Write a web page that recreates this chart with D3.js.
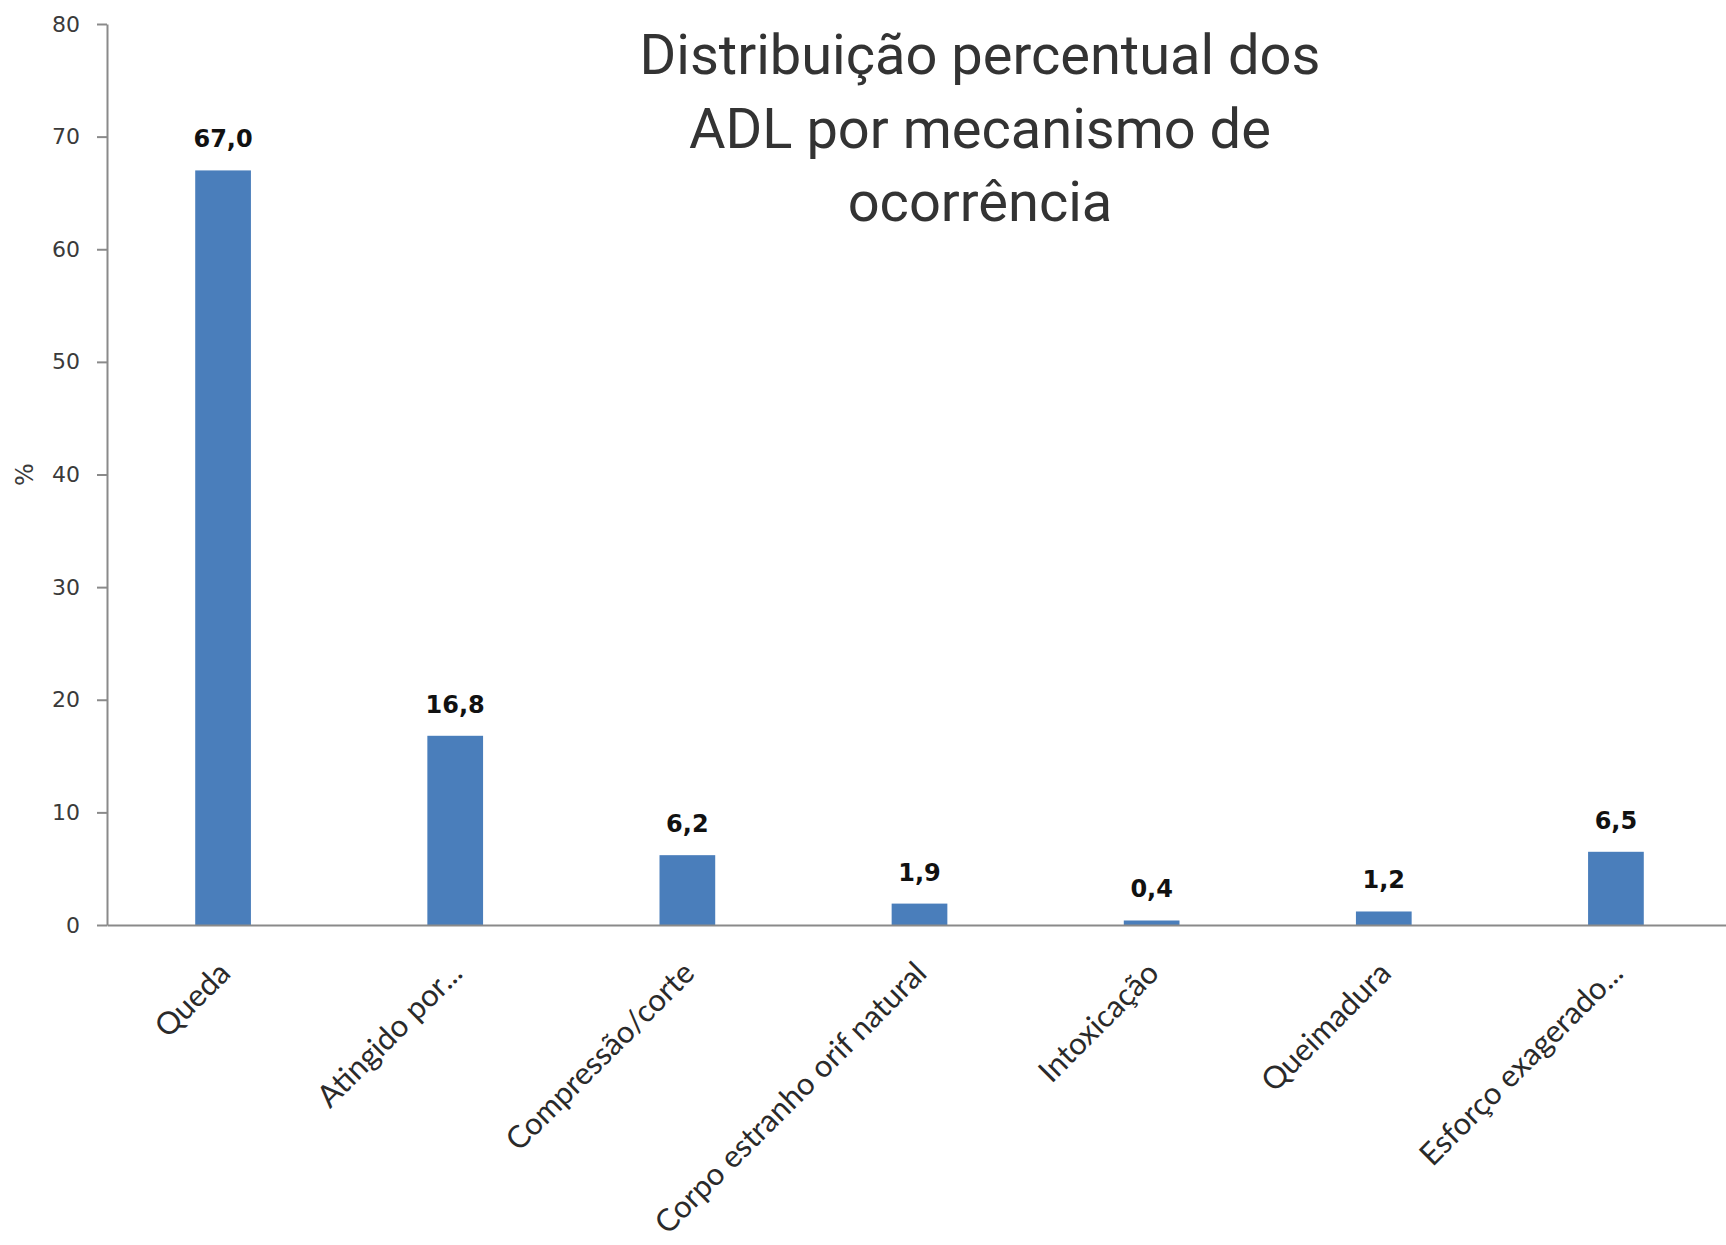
<!DOCTYPE html>
<html>
<head>
<meta charset="utf-8">
<script src="https://cdn.jsdelivr.net/npm/d3@7"></script>
<style>
  html, body { margin: 0; padding: 0; background: #ffffff; }
  svg { display: block; }
</style>
</head>
<body>
<svg id="chart" width="1726" height="1245"></svg>
<script>
// Mechanisms of occurrence and their share of ADL cases (%)
const categories = [
  "Queda",
  "Atingido por...",
  "Compressão/corte",
  "Corpo estranho orif natural",
  "Intoxicação",
  "Queimadura",
  "Esforço exagerado..."
];
const percentages = [67.0, 16.8, 6.2, 1.9, 0.4, 1.2, 6.5];
const yTicks = [0, 10, 20, 30, 40, 50, 60, 70, 80];
const titleLines = ["Distribuição percentual dos", "ADL por mecanismo de", "ocorrência"];
const yAxisTitle = "%";

const svg = d3.select("#chart");

const x = d3.scaleBand()
  .domain(categories)
  .range([107, 1732])
  .paddingInner(0.76)
  .paddingOuter(0.38);

const y = d3.scaleLinear()
  .domain([0, 80])
  .range([925, 24]);

const axisColor = "#8a8a8a";
const fmt = v => d3.format(".1f")(v).replace(".", ",");

// Y axis
const yAxis = svg.append("g")
  .attr("transform", `translate(${x.range()[0]},0)`)
  .call(d3.axisLeft(y).tickValues(yTicks).tickSize(10).tickSizeOuter(0).tickPadding(17));
yAxis.select(".domain").attr("stroke", axisColor).attr("stroke-width", 2);
yAxis.selectAll(".tick line").attr("stroke", axisColor).attr("stroke-width", 2);
yAxis.selectAll(".tick text")
  .attr("fill", "#3a3a3a")
  .style("font-family", "'DejaVu Sans', Verdana, sans-serif")
  .style("font-size", "22px");

// Y axis title
svg.append("text")
  .attr("transform", `translate(33, ${y(40)}) rotate(-90)`)
  .attr("text-anchor", "middle")
  .attr("fill", "#3a3a3a")
  .style("font-family", "'DejaVu Sans', Verdana, sans-serif")
  .style("font-size", "24px")
  .text(yAxisTitle);

// Bars
svg.append("g").selectAll("rect")
  .data(percentages)
  .join("rect")
  .attr("x", (d, i) => x(categories[i]))
  .attr("width", x.bandwidth())
  .attr("y", d => y(d))
  .attr("height", d => y(0) - y(d))
  .attr("fill", "#4a7ebb");

// X axis
const xAxis = svg.append("g")
  .attr("transform", `translate(0,${y(0)})`)
  .call(d3.axisBottom(x).tickSize(0).tickSizeOuter(0).tickPadding(0));
xAxis.select(".domain").attr("stroke", axisColor).attr("stroke-width", 2);
xAxis.selectAll(".tick text")
  .attr("text-anchor", "end")
  .attr("dy", null)
  .attr("y", null)
  .attr("transform", "translate(9,50) rotate(-45)")
  .attr("fill", "#2a2a2a")
  .style("font-family", "Lato, 'Open Sans', sans-serif")
  .style("font-size", "31px");

// Value labels
svg.append("g").selectAll("text")
  .data(percentages)
  .join("text")
  .attr("x", (d, i) => x(categories[i]) + x.bandwidth() / 2)
  .attr("y", d => y(d) - 23)
  .attr("text-anchor", "middle")
  .attr("fill", "#111")
  .style("font-family", "'DejaVu Sans', Verdana, sans-serif")
  .style("font-weight", "bold")
  .style("font-size", "24px")
  .text(d => fmt(d));

// Title
const title = svg.append("text")
  .attr("text-anchor", "middle")
  .attr("fill", "#333")
  .style("font-family", "Roboto, sans-serif")
  .style("font-size", "56px");
title.selectAll("tspan")
  .data(titleLines)
  .join("tspan")
  .attr("x", 980)
  .attr("y", (d, i) => 74 + i * 73.5)
  .text(d => d);
</script>
</body>
</html>
